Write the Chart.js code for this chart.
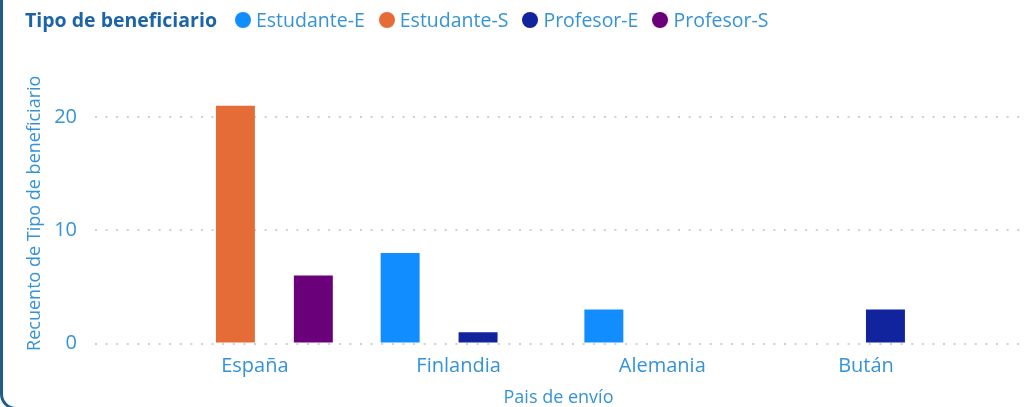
<!DOCTYPE html>
<html lang="es">
<head>
<meta charset="UTF-8">
<title>Tipo de beneficiario por país</title>
<script src="https://cdn.jsdelivr.net/npm/chart.js"></script>
<style>
  html, body { margin: 0; padding: 0; background: #fff; overflow: hidden; }
  body { width: 1027px; height: 407px; position: relative; font-family: 'Open Sans', sans-serif; }
  #frame {
    position: absolute; left: 0; top: -20px; width: 1100px; height: 430px;
    box-sizing: border-box; border: 3px solid #215d8c; border-radius: 16px;
    pointer-events: none;
  }
  #legend {
    position: absolute; left: 25px; top: 6px; display: flex; align-items: center;
    font-size: 19.5px; white-space: nowrap;
  }
  #legend .title { font-weight: 700; color: #1c64a8; margin-right: 18px; }
  #legend .item { display: flex; align-items: center; color: #3593d8; margin-right: 14px; }
  #legend .dot { width: 16px; height: 16px; border-radius: 50%; margin-right: 5px; }
</style>
</head>
<body>
<canvas id="chart" width="1027" height="407"></canvas>
<div id="legend"></div>
<div id="frame"></div>
<script>
// data
var categories = ['España', 'Finlandia', 'Alemania', 'Bután'];
var seriesNames = ['Estudante-E', 'Estudante-S', 'Profesor-E', 'Profesor-S'];
var estudanteE = [null, 8, 3, null];
var estudanteS = [21, null, null, null];
var profesorE = [null, 1, null, 3];
var profesorS = [6, null, null, null];
var yTicks = [0, 10, 20];

var seriesValues = [estudanteE, estudanteS, profesorE, profesorS];
var colors = ['#118DFF', '#E66C37', '#12239E', '#6B007B'];
var textBlue = '#3593d8';

// html legend
var legend = document.getElementById('legend');
var t = document.createElement('span');
t.className = 'title';
t.textContent = 'Tipo de beneficiario';
legend.appendChild(t);
seriesNames.forEach(function (name, i) {
    var item = document.createElement('span');
    item.className = 'item';
    item.innerHTML = '<span class="dot" style="background:' + colors[i] + '"></span>' + name;
    legend.appendChild(item);
});

var datasets = seriesNames.map(function (name, i) {
    return {
        label: name,
        data: seriesValues[i].map(function (v, j) { return { x: j, y: v }; }),
        backgroundColor: colors[i],
        borderWidth: 0
    };
});

new Chart(document.getElementById('chart'), {
    type: 'bar',
    data: { datasets: datasets },
    options: {
        responsive: false,
        animation: false,
        categoryPercentage: 0.765,
        barPercentage: 1,
        layout: { padding: { left: 20, right: 5, top: 83, bottom: 0 } },
        plugins: { legend: { display: false }, tooltip: { enabled: false } },
        scales: {
            x: {
                type: 'linear',
                offset: false,
                min: -0.785,
                max: 3.766,
                afterBuildTicks: function (axis) {
                    axis.ticks = categories.map(function (c, i) { return { value: i }; });
                },
                afterFit: function (axis) { axis.height = 63.5; },
                grid: { display: false },
                border: { display: false },
                ticks: {
                    autoSkip: false,
                    maxRotation: 0,
                    padding: 3,
                    color: textBlue,
                    font: { family: 'Open Sans', size: 20 },
                    callback: function (value) { return categories[value]; }
                },
                title: {
                    display: true,
                    text: 'Pais de envío',
                    color: textBlue,
                    padding: 0,
                    font: { family: 'Open Sans', size: 18, lineHeight: 1 }
                }
            },
            y: {
                min: 0,
                max: 23,
                afterBuildTicks: function (axis) {
                    axis.ticks = yTicks.map(function (v) { return { value: v }; });
                },
                afterFit: function (axis) { axis.width = 75; },
                grid: { color: '#cfcfcf', lineWidth: 2, drawTicks: false },
                border: { display: false, dash: [2, 8.6] },
                ticks: {
                    padding: 18,
                    color: textBlue,
                    font: { family: 'Open Sans', size: 20 }
                },
                title: {
                    display: true,
                    text: 'Recuento de Tipo de beneficiario',
                    color: textBlue,
                    padding: { top: 4, bottom: 0 },
                    font: { family: 'Open Sans', size: 18 }
                }
            }
        }
    }
});
</script>
</body>
</html>
